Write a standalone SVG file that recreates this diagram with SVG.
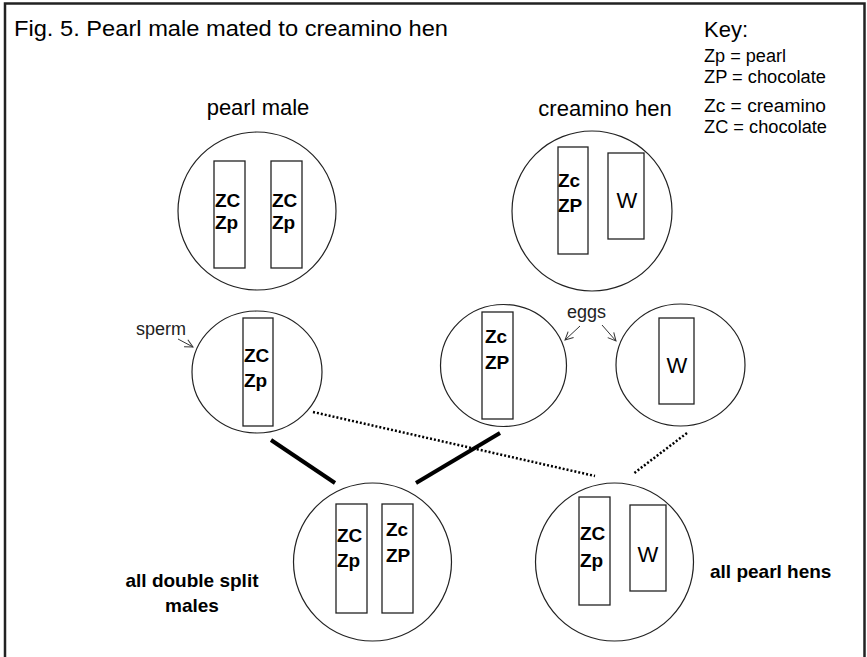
<svg xmlns="http://www.w3.org/2000/svg" width="867" height="657" viewBox="0 0 867 657">
<style>
text{font-family:"Liberation Sans",Arial,sans-serif;fill:#000}
.title{font-size:22px}
.lab{font-size:22px}
.key{font-size:18px}
.small{font-size:18px;fill:#222}
.gene{font-size:19px;font-weight:bold}
.w{font-size:22px}
.bl{font-size:19px;font-weight:bold}
.cell{fill:#fff;stroke:#222;stroke-width:1.2}
.chr{fill:#fff;stroke:#222;stroke-width:1.3}
.thick{stroke:#000;stroke-width:4;fill:none}
.dot{stroke:#000;stroke-width:2.5;stroke-dasharray:2 2;fill:none}
.arr{stroke:#333;stroke-width:1;fill:none}
</style>
<defs>
<marker id="ah" markerWidth="10" markerHeight="10" refX="9" refY="5" orient="auto" markerUnits="userSpaceOnUse">
<path d="M1,1 L9,5 L1,9" fill="none" stroke="#333" stroke-width="1"/>
</marker>
</defs>
<rect x="0" y="0" width="867" height="657" fill="#fff"/>
<path d="M5,657 L5,3.5 L864.5,3.5 L864.5,657" fill="none" stroke="#222" stroke-width="2.5"/>

<text class="title" x="14" y="36" textLength="434" lengthAdjust="spacingAndGlyphs">Fig. 5. Pearl male mated to creamino hen</text>

<g id="key">
<text class="lab" x="704" y="37">Key:</text>
<text class="key" x="704" y="62" textLength="82" lengthAdjust="spacingAndGlyphs">Zp = pearl</text>
<text class="key" x="704" y="83" textLength="122" lengthAdjust="spacingAndGlyphs">ZP = chocolate</text>
<text class="key" x="704" y="112" textLength="122" lengthAdjust="spacingAndGlyphs">Zc = creamino</text>
<text class="key" x="704" y="133" textLength="123" lengthAdjust="spacingAndGlyphs">ZC = chocolate</text>
</g>

<g id="connectors">
<line class="thick" x1="271" y1="440" x2="335" y2="483"/>
<line class="thick" x1="500" y1="433" x2="416" y2="483"/>
<line class="dot" x1="313" y1="412" x2="595" y2="476"/>
<line class="dot" x1="687" y1="433" x2="633" y2="474"/>
<line class="arr" x1="178" y1="339" x2="193" y2="347" marker-end="url(#ah)"/>
<line class="arr" x1="580" y1="326" x2="565" y2="340" marker-end="url(#ah)"/>
<line class="arr" x1="602" y1="325" x2="616" y2="341" marker-end="url(#ah)"/>
</g>

<g id="pearl-male">
<text class="lab" x="258" y="115" text-anchor="middle">pearl male</text>
<circle class="cell" cx="257" cy="211" r="79"/>
<rect class="chr" x="214" y="161" width="31" height="107"/>
<rect class="chr" x="271" y="161" width="31" height="107"/>
<text class="gene" x="215" y="207">ZC</text>
<text class="gene" x="215" y="229">Zp</text>
<text class="gene" x="272" y="207">ZC</text>
<text class="gene" x="272" y="229">Zp</text>
</g>

<g id="creamino-hen">
<text class="lab" x="605" y="116" text-anchor="middle">creamino hen</text>
<circle class="cell" cx="592" cy="211" r="80"/>
<rect class="chr" x="558" y="147" width="30" height="107"/>
<rect class="chr" x="608" y="153" width="36" height="86"/>
<text class="gene" x="558" y="187">Zc</text>
<text class="gene" x="558" y="212">ZP</text>
<text class="w" x="627" y="208" text-anchor="middle">W</text>
</g>

<g id="sperm">
<text class="small" x="136" y="335">sperm</text>
<ellipse class="cell" cx="257" cy="372" rx="65" ry="61"/>
<rect class="chr" x="243" y="318" width="30" height="108"/>
<text class="gene" x="244" y="362">ZC</text>
<text class="gene" x="244" y="387">Zp</text>
</g>

<g id="egg-z">
<text class="small" x="567" y="318">eggs</text>
<ellipse class="cell" cx="503.5" cy="365.5" rx="63" ry="61"/>
<rect class="chr" x="482" y="312" width="31" height="107"/>
<text class="gene" x="485" y="343">Zc</text>
<text class="gene" x="485" y="369">ZP</text>
</g>

<g id="egg-w">
<ellipse class="cell" cx="680.5" cy="365" rx="64.5" ry="61"/>
<rect class="chr" x="659" y="318" width="35" height="86"/>
<text class="w" x="677" y="373" text-anchor="middle">W</text>
</g>

<g id="males">
<circle class="cell" cx="372.5" cy="562" r="79"/>
<rect class="chr" x="336" y="504" width="31" height="109"/>
<rect class="chr" x="382" y="504" width="31" height="109"/>
<text class="gene" x="337" y="542">ZC</text>
<text class="gene" x="337" y="567">Zp</text>
<text class="gene" x="386" y="536">Zc</text>
<text class="gene" x="386" y="562">ZP</text>
<text class="bl" x="192" y="587" text-anchor="middle">all double split</text>
<text class="bl" x="192" y="612" text-anchor="middle">males</text>
</g>

<g id="hens">
<circle class="cell" cx="614.5" cy="562" r="79"/>
<rect class="chr" x="579" y="497" width="31" height="108"/>
<rect class="chr" x="630" y="505" width="36" height="86"/>
<text class="gene" x="580" y="540">ZC</text>
<text class="gene" x="580" y="567">Zp</text>
<text class="w" x="648" y="562" text-anchor="middle">W</text>
<text class="bl" x="710" y="578">all pearl hens</text>
</g>
</svg>
